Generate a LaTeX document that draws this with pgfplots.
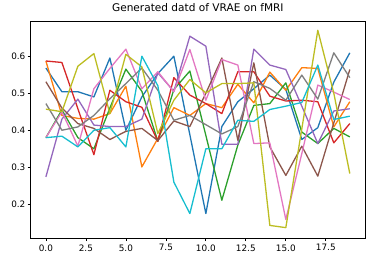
\documentclass[border=0pt]{standalone}
\usepackage{fontspec}
\setmainfont{DejaVu Sans}
\usepackage{pgfplots}
\pgfplotsset{compat=1.18}
\definecolor{c0}{HTML}{1F77B4}
\definecolor{c1}{HTML}{FF7F0E}
\definecolor{c2}{HTML}{2CA02C}
\definecolor{c3}{HTML}{D62728}
\definecolor{c4}{HTML}{9467BD}
\definecolor{c5}{HTML}{8C564B}
\definecolor{c6}{HTML}{E377C2}
\definecolor{c7}{HTML}{7F7F7F}
\definecolor{c8}{HTML}{BCBD22}
\definecolor{c9}{HTML}{17BECF}
\begin{document}
\begin{tikzpicture}
\useasboundingbox (0,0) rectangle (372bp,262bp);
\begin{axis}[
  at={(30.7bp,24bp)}, anchor=south west,
  scale only axis, width=334.3bp, height=217bp,
  xmin=-0.95, xmax=19.95, ymin=0.109, ymax=0.695,
  xtick={0,2.5,5,7.5,10,12.5,15,17.5},
  ytick={0.2,0.3,0.4,0.5,0.6},
  xticklabel style={/pgf/number format/.cd, fixed, fixed zerofill, precision=1},
  yticklabel style={/tikz/xshift=1.2bp, /pgf/number format/.cd, fixed, fixed zerofill, precision=1},
  /pgf/number format/assume math mode=true,
  tick align=outside, xtick pos=bottom, ytick pos=left,
  major tick length=3bp,
  every tick/.style={black, line width=0.7bp},
  axis line style={line width=0.7bp},
  tick label style={font=\fontsize{8.9}{10}\selectfont},
  title={Generated datd of VRAE on fMRI},
  title style={font=\fontsize{10.6}{12}\selectfont, at={(0.5,1)}, anchor=base, yshift=3.8bp},
  every axis plot/.append style={line width=1.3bp, line join=round, no markers},
  clip=true,
]
\addplot[c0] coordinates {(0,0.568)(1,0.504)(2,0.504)(3,0.49)(4,0.595)(5,0.40)(6,0.49)(7,0.553)(8,0.60)(9,0.388)(10,0.175)(11,0.41)(12,0.477)(13,0.512)(14,0.549)(15,0.51)(16,0.375)(17,0.407)(18,0.53)(19,0.609)};
\addplot[c1] coordinates {(0,0.587)(1,0.44)(2,0.432)(3,0.43)(4,0.445)(5,0.519)(6,0.301)(7,0.378)(8,0.461)(9,0.44)(10,0.472)(11,0.461)(12,0.524)(13,0.474)(14,0.557)(15,0.508)(16,0.569)(17,0.567)(18,0.409)(19,0.477)};
\addplot[c2] coordinates {(0,0.38)(1,0.455)(2,0.38)(3,0.35)(4,0.46)(5,0.565)(6,0.505)(7,0.37)(8,0.51)(9,0.56)(10,0.386)(11,0.211)(12,0.36)(13,0.467)(14,0.472)(15,0.528)(16,0.395)(17,0.364)(18,0.405)(19,0.382)};
\addplot[c3] coordinates {(0,0.587)(1,0.583)(2,0.458)(3,0.334)(4,0.508)(5,0.477)(6,0.462)(7,0.37)(8,0.542)(9,0.495)(10,0.472)(11,0.445)(12,0.558)(13,0.558)(14,0.492)(15,0.479)(16,0.481)(17,0.477)(18,0.366)(19,0.418)};
\addplot[c4] coordinates {(0,0.274)(1,0.43)(2,0.484)(3,0.414)(4,0.41)(5,0.41)(6,0.43)(7,0.555)(8,0.505)(9,0.654)(10,0.627)(11,0.362)(12,0.362)(13,0.619)(14,0.576)(15,0.564)(16,0.465)(17,0.364)(18,0.452)(19,0.458)};
\addplot[c5] coordinates {(0,0.531)(1,0.46)(2,0.418)(3,0.405)(4,0.375)(5,0.397)(6,0.405)(7,0.372)(8,0.425)(9,0.41)(10,0.5)(11,0.595)(12,0.373)(13,0.582)(14,0.355)(15,0.278)(16,0.357)(17,0.276)(18,0.42)(19,0.564)};
\addplot[c6] coordinates {(0,0.38)(1,0.45)(2,0.357)(3,0.512)(4,0.567)(5,0.619)(6,0.512)(7,0.558)(8,0.504)(9,0.618)(10,0.481)(11,0.591)(12,0.576)(13,0.364)(14,0.366)(15,0.159)(16,0.337)(17,0.522)(18,0.503)(19,0.483)};
\addplot[c7] coordinates {(0,0.472)(1,0.40)(2,0.409)(3,0.44)(4,0.485)(5,0.526)(6,0.568)(7,0.508)(8,0.427)(9,0.44)(10,0.415)(11,0.39)(12,0.41)(13,0.531)(14,0.513)(15,0.481)(16,0.549)(17,0.484)(18,0.609)(19,0.542)};
\addplot[c8] coordinates {(0,0.457)(1,0.45)(2,0.573)(3,0.607)(4,0.445)(5,0.605)(6,0.571)(7,0.391)(8,0.481)(9,0.537)(10,0.501)(11,0.526)(12,0.526)(13,0.528)(14,0.143)(15,0.137)(16,0.404)(17,0.67)(18,0.50)(19,0.283)};
\addplot[c9] coordinates {(0,0.38)(1,0.384)(2,0.355)(3,0.40)(4,0.407)(5,0.355)(6,0.60)(7,0.52)(8,0.26)(9,0.175)(10,0.35)(11,0.35)(12,0.427)(13,0.424)(14,0.456)(15,0.465)(16,0.475)(17,0.576)(18,0.429)(19,0.438)};
\end{axis}
\end{tikzpicture}
\end{document}
